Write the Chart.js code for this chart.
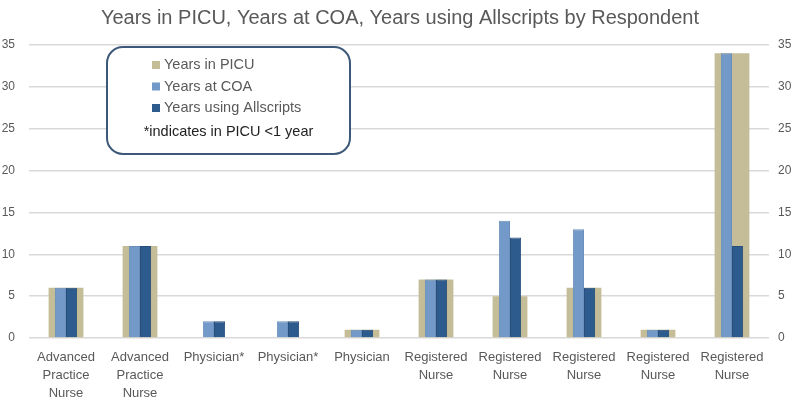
<!DOCTYPE html>
<html>
<head>
<meta charset="utf-8">
<script src="https://cdn.jsdelivr.net/npm/chart.js@4/dist/chart.umd.min.js"></script>
<style>
  body { margin: 0; background: #fff; }
  #wrap { width: 800px; height: 400px; }
</style>
</head>
<body>
<div id="wrap"><canvas id="myChart" width="800" height="400"></canvas></div>
<script>
const categories = [
  ["Advanced", "Practice", "Nurse"],
  ["Advanced", "Practice", "Nurse"],
  "Physician*",
  "Physician*",
  "Physician",
  ["Registered", "Nurse"],
  ["Registered", "Nurse"],
  ["Registered", "Nurse"],
  ["Registered", "Nurse"],
  ["Registered", "Nurse"]
];
const yearsInPicu = [6, 11, 0, 0, 1, 7, 5, 6, 1, 34];
const yearsAtCoa = [6, 11, 2, 2, 1, 7, 14, 13, 1, 34];
const yearsAllscripts = [6, 11, 2, 2, 1, 7, 12, 6, 1, 11];
const yMax = 35;
const yStep = 5;
const titleText = "Years in PICU, Years at COA, Years using Allscripts by Respondent";
const noteText = "*indicates in PICU <1 year";

const FONT = "'Liberation Sans', Arial, sans-serif";
const GREY = '#595959';

// legend drawn as a rounded box inside the plot, like the original
const boxLegend = {
  id: 'boxLegend',
  afterDatasetsDraw(chart) {
    const c = chart.ctx;
    const x = 107, y = 47, w = 243, h = 107, r = 16;
    c.save();
    c.beginPath();
    c.roundRect(x, y, w, h, r);
    c.fillStyle = '#fff';
    c.fill();
    c.lineWidth = 2;
    c.strokeStyle = '#3d5878';
    c.stroke();
    c.font = '14.5px ' + FONT;
    c.textBaseline = 'middle';
    chart.data.datasets.forEach((ds, i) => {
      const rowY = 65 + i * 21.5;
      c.fillStyle = ds.backgroundColor;
      c.fillRect(152, rowY - 4, 8, 8);
      c.fillStyle = GREY;
      c.textAlign = 'left';
      c.fillText(ds.label, 164, rowY);
    });
    c.fillStyle = '#222';
    c.textAlign = 'center';
    c.fillText(noteText, x + w / 2, 132);
    c.restore();
  }
};

const ctx = document.getElementById("myChart").getContext('2d');
const myChart = new Chart(ctx, {
  type: 'bar',
  data: {
    labels: categories,
    datasets: [{
        label: 'Years in PICU',
        data: yearsInPicu,
        backgroundColor: '#c4bd97',
        order: 1,
        grouped: false,   // wide bar sits behind the pair
        categoryPercentage: 1,
        barPercentage: 0.47
      }, {
        label: 'Years at COA',
        data: yearsAtCoa,
        backgroundColor: '#7399c8',
        borderColor: '#6a8fbd',
        borderWidth: 1,
        order: 0,
        categoryPercentage: 0.3,
        barPercentage: 1
      }, {
        label: 'Years using Allscripts',
        data: yearsAllscripts,
        backgroundColor: '#2e5b8d',
        borderColor: '#284f7c',
        borderWidth: 1,
        order: 0,
        categoryPercentage: 0.3,
        barPercentage: 1
      }]
  },
  options: {
    responsive: false,
    animation: false,
    layout: { padding: 0 },
    plugins: {
      legend: { display: false },
      tooltip: { enabled: false },
      title: {
        display: true,
        text: titleText,
        color: GREY,
        font: { family: FONT, size: 20, weight: 'normal' },
        padding: { top: 6, bottom: 15 }
      }
    },
    scales: {
      x: {
        offset: true,
        grid: { display: false, drawTicks: false },
        border: { display: false },
        ticks: {
          color: GREY,
          font: { family: FONT, size: 13, lineHeight: 1.4 },
          maxRotation: 0,
          autoSkip: false,
          padding: 10
        },
        afterFit(scale) { scale.height = 62; }
      },
      y: {
        position: 'left',
        min: 0,
        max: yMax,
        grid: { color: '#d9d9d9', lineWidth: 1.5, drawTicks: false },
        border: { display: false },
        ticks: {
          stepSize: yStep,
          color: GREY,
          font: { family: FONT, size: 12 },
          padding: 14
        },
        afterFit(scale) { scale.width = 29; }
      },
      y2: {
        position: 'right',
        min: 0,
        max: yMax,
        grid: { display: false, drawTicks: false },
        border: { display: false },
        ticks: {
          stepSize: yStep,
          color: GREY,
          font: { family: FONT, size: 12 },
          padding: 9
        },
        afterFit(scale) { scale.width = 31; }
      }
    }
  },
  plugins: [boxLegend]
});
</script>
</body>
</html>
